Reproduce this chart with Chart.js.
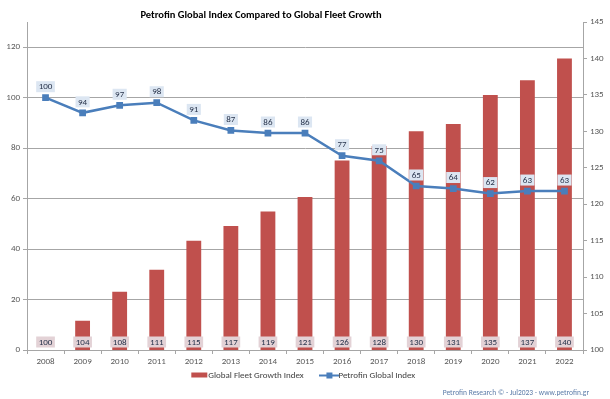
<!DOCTYPE html>
<html>
<head>
<meta charset="utf-8">
<script src="https://cdn.jsdelivr.net/npm/chart.js@4.4.1/dist/chart.umd.min.js"></script>
<style>
  html, body { margin: 0; padding: 0; background: #fff; }
  #wrap { width: 610px; height: 399px; position: relative; }
</style>
</head>
<body>
<div id="wrap"><canvas id="chart"></canvas></div>
<script>
var years = ['2008', '2009', '2010', '2011', '2012', '2013', '2014', '2015', '2016', '2017', '2018', '2019', '2020', '2021', '2022'];
var fleetGrowth = [100, 104, 108, 111, 115, 117, 119, 121, 126, 128, 130, 131, 135, 137, 140];
var petrofinIndex = [100, 94, 97, 98, 91, 87, 86, 86, 77, 75, 65, 64, 62, 63, 63];
var leftTicks = [0, 130, 20];
var rightTicks = [100, 145, 5];

var FONT = "Carlito, 'Liberation Sans Narrow', 'Liberation Sans', sans-serif";
var RED = '#C0504D';
var BLUE = '#4A7EBB';

function legendIcon(kind) {
  var c = document.createElement('canvas');
  c.width = 20; c.height = 8;
  var g = c.getContext('2d');
  if (kind == 'bar') {
    g.fillStyle = RED;
    g.fillRect(2, 1, 16, 5);
  } else {
    g.strokeStyle = BLUE;
    g.lineWidth = 2;
    g.beginPath(); g.moveTo(0, 4); g.lineTo(20, 4); g.stroke();
    g.fillStyle = BLUE;
    g.fillRect(7, 1, 6, 6);
  }
  return c;
}

function box(ctx, x, y, w, h, fill) {
  ctx.fillStyle = fill;
  ctx.fillRect(x - w / 2, y - h / 2, w, h);
}

var labelPlugin = {
  id: 'labels',
  afterDatasetsDraw: function (chart) {
    var ctx = chart.ctx;
    ctx.save();
    ctx.font = '9px ' + FONT;
    ctx.textAlign = 'center';
    ctx.textBaseline = 'middle';
    // bar labels sit at the foot of each bar
    var base = chart.scales.y1.getPixelForValue(rightTicks[0]);
    var bars = chart.getDatasetMeta(0);
    bars.data.forEach(function (el, i) {
      var t = String(fleetGrowth[i]);
      var w = ctx.measureText(t).width + 5;
      var y = base - 8;
      box(ctx, el.x, y, w, 11, '#E3D2D6');
      ctx.fillStyle = '#26324a';
      ctx.fillText(t, el.x, y + 0.5);
    });
    var line = chart.getDatasetMeta(1);
    line.data.forEach(function (el, i) {
      var t = String(petrofinIndex[i]);
      var w = ctx.measureText(t).width + 5;
      var y = el.y - 11;
      box(ctx, el.x, y, w, 11, '#DCE6F2');
      ctx.fillStyle = '#26324a';
      ctx.fillText(t, el.x, y + 0.5);
    });
    ctx.restore();
  },
  afterDraw: function (chart) {
    var ctx = chart.ctx;
    ctx.save();
    ctx.textBaseline = 'middle';
    ctx.textAlign = 'center';
    ctx.fillStyle = '#000';
    ctx.font = 'bold 10.5px ' + FONT;
    ctx.fillText('Petrofin Global Index Compared to Global Fleet Growth', 261, 15);
    ctx.textAlign = 'right';
    ctx.fillStyle = '#5B7BA8';
    ctx.font = '7.5px ' + FONT;
    ctx.fillText('Petrofin Research \u00A9 - Jul2023 - www.petrofin.gr', 589, 393);
    ctx.restore();
  }
};

new Chart(document.getElementById('chart'), {
  type: 'bar',
  data: {
    labels: years,
    datasets: [{
      type: 'bar',
      label: 'Global Fleet Growth Index',
      data: fleetGrowth,
      yAxisID: 'y1',
      backgroundColor: RED,
      barPercentage: 0.4,
      categoryPercentage: 1,
      order: 2
    }, {
      type: 'line',
      label: 'Petrofin Global Index',
      data: petrofinIndex,
      yAxisID: 'y',
      borderColor: BLUE,
      backgroundColor: BLUE,
      borderWidth: 2.5,
      pointStyle: 'rect',
      pointRadius: 3,
      tension: 0,
      order: 1
    }]
  },
  options: {
    responsive: true,
    maintainAspectRatio: false,
    animation: false,
    layout: { padding: { top: 22, bottom: 9, left: 0, right: 0 } },
    plugins: {
      title: { display: false },
      tooltip: { enabled: false },
      legend: {
        position: 'bottom',
        labels: {
          usePointStyle: true,
          font: { size: 9, family: FONT },
          color: '#404040',
          padding: 5,
          generateLabels: function (chart) {
            return chart.data.datasets.map(function (ds, i) {
              return {
                text: ds.label + (i == 0 ? '        ' : ''),
                pointStyle: legendIcon(i == 0 ? 'bar' : 'line'),
                fontColor: '#404040',
                datasetIndex: i,
                lineWidth: 0
              };
            });
          }
        }
      }
    },
    scales: {
      x: {
        offset: true,
        grid: { offset: true, drawOnChartArea: false, drawTicks: true, tickLength: 4, color: '#A6A6A6' },
        border: { color: '#A6A6A6' },
        ticks: { font: { size: 9, family: FONT }, color: '#595959', padding: 2, maxRotation: 0 },
        afterFit: function (s) { s.height = 16; }
      },
      y: {
        position: 'left',
        min: leftTicks[0],
        max: leftTicks[1],
        ticks: { stepSize: leftTicks[2], includeBounds: false, font: { size: 9, family: FONT }, color: '#595959', padding: 3 },
        grid: { color: '#A6A6A6', tickLength: 4 },
        border: { color: '#A6A6A6' },
        afterFit: function (s) { s.width = 27; }
      },
      y1: {
        position: 'right',
        min: rightTicks[0],
        max: rightTicks[1],
        ticks: { stepSize: rightTicks[2], font: { size: 9, family: FONT }, color: '#595959', padding: 3 },
        grid: { drawOnChartArea: false, color: '#A6A6A6', tickLength: 4 },
        border: { color: '#A6A6A6' },
        afterFit: function (s) { s.width = 27; }
      }
    }
  },
  plugins: [labelPlugin]
});
</script>
</body>
</html>
